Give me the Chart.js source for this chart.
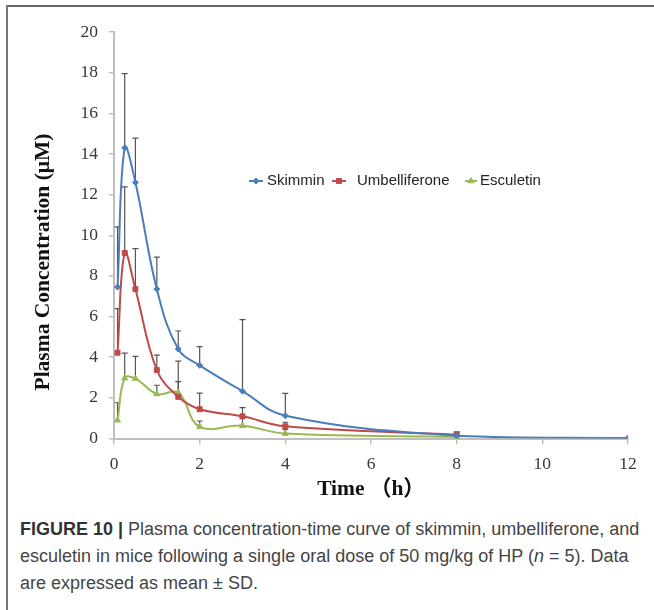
<!DOCTYPE html>
<html>
<head>
<meta charset="utf-8">
<script src="https://cdn.jsdelivr.net/npm/chart.js@4"></script>
<style>
html, body { margin: 0; padding: 0; background: #fff; }
#wrap { position: relative; width: 654px; height: 610px; overflow: hidden; }
#frameTop { position: absolute; left: 6px; top: 5px; width: 648px; height: 2px; background: #666; }
#frameLeft { position: absolute; left: 6px; top: 5px; width: 2px; height: 605px; background: #777; }
#chartBox { position: absolute; left: 0; top: 0; width: 654px; height: 505px; }
#caption { position: absolute; left: 20px; top: 516px; width: 634px; font: 18px/27px "Liberation Sans", Arial, sans-serif; color: #444; white-space: nowrap; }
#caption b { color: #333; }
</style>
</head>
<body>
<div id="wrap">
  <div id="chartBox"><canvas id="pkChart" width="654" height="505"></canvas></div>
  <div id="frameTop"></div>
  <div id="frameLeft"></div>
  <div id="caption"><b>FIGURE 10 |</b> Plasma concentration-time curve of skimmin, umbelliferone, and<br>esculetin in mice following a single oral dose of 50 mg/kg of HP (<i>n</i> = 5). Data<br>are expressed as mean &plusmn; SD.</div>
</div>
<script>
// time points (h)
const times = [0.083, 0.25, 0.5, 1, 1.5, 2, 3, 4, 8, 12]

// mean plasma concentration (uM) and SD
const skimmin = [7.45, 14.3, 12.6, 7.35, 4.4, 3.6, 2.33, 1.12, 0.14, 0.02]
const skimminSD = [2.96, 3.65, 2.18, 1.57, 0.89, 0.92, 3.52, 1.1, 0.18, 0]
const umbelliferone = [4.22, 9.13, 7.35, 3.37, 2.05, 1.44, 1.09, 0.6, 0.19]
const umbelliferoneSD = [2.17, 3.25, 1.99, 0.73, 1.76, 0.79, 0.43, 0.2, 0.13]
const esculetin = [0.9, 2.97, 2.95, 2.19, 2.26, 0.58, 0.63, 0.24, 0.08]
const esculetinSD = [0.86, 1.23, 1.09, 0.43, 0.54, 0.28, 0.37, 0.21, 0.12]

const xTicks = [0, 2, 4, 6, 8, 10, 12]
const yTicks = [0, 2, 4, 6, 8, 10, 12, 14, 16, 18, 20]

const toPoints = (vals) => vals.map((v, i) => ({ x: times[i], y: v }))

const serif = '"Liberation Serif", "Times New Roman", serif'

// upper error bars (mean + SD)
const errorBars = {
    id: 'errorBars',
    beforeDatasetsDraw(chart) {
        const { ctx, scales: { x, y } } = chart
        ctx.save()
        ctx.strokeStyle = '#555'
        ctx.lineWidth = 1.2
        chart.data.datasets.forEach((ds) => {
            ds.data.forEach((p, i) => {
                const sd = ds.sd[i]
                if (!sd) return
                const px = x.getPixelForValue(p.x)
                const y0 = y.getPixelForValue(p.y)
                const y1 = y.getPixelForValue(p.y + sd)
                ctx.beginPath()
                ctx.moveTo(px, y0)
                ctx.lineTo(px, y1)
                ctx.moveTo(px - 3, y1)
                ctx.lineTo(px + 3, y1)
                ctx.stroke()
            })
        })
        ctx.restore()
    },
}

// legend inside the plot + rotated y title
const extras = {
    id: 'extras',
    afterDraw(chart) {
        const ctx = chart.ctx
        ctx.save()
        const items = [
            { ds: 0, x0: 249, x1: 263, tx: 267 },
            { ds: 1, x0: 332, x1: 346, tx: 357 },
            { ds: 2, x0: 465, x1: 477, tx: 480 },
        ]
        const ly = 181
        items.forEach((it) => {
            const ds = chart.data.datasets[it.ds]
            ctx.strokeStyle = ds.borderColor
            ctx.lineWidth = 2
            ctx.beginPath()
            ctx.moveTo(it.x0, ly)
            ctx.lineTo(it.x1, ly)
            ctx.stroke()
            ctx.fillStyle = ds.borderColor
            ctx.lineWidth = 1
            Chart.helpers.drawPoint(ctx, { pointStyle: ds.pointStyle, radius: ds.pointRadius, rotation: 0, borderWidth: 1 }, (it.x0 + it.x1) / 2, ly)
            ctx.fillStyle = '#222'
            ctx.font = '15px "Liberation Sans", Arial, sans-serif'
            ctx.textAlign = 'left'
            ctx.textBaseline = 'middle'
            ctx.fillText(ds.label, it.tx, ly)
        })

        ctx.translate(43, 262)
        ctx.rotate(-Math.PI / 2)
        ctx.fillStyle = '#111'
        ctx.font = 'bold 21.5px ' + serif
        ctx.textAlign = 'center'
        ctx.textBaseline = 'middle'
        ctx.fillText('Plasma Concentration (μM)', 0, 0)
        ctx.restore()
    },
}

const ctx = document.querySelector('#pkChart').getContext('2d')

const pkChart = new Chart(ctx, {
    type: 'line',
    data: {
        datasets: [
            {
                label: 'Skimmin',
                data: toPoints(skimmin),
                sd: skimminSD,
                borderColor: '#4a7ebb',
                backgroundColor: '#4a7ebb',
                pointStyle: 'rectRot',
                pointRadius: 3,
            },
            {
                label: 'Umbelliferone',
                data: toPoints(umbelliferone),
                sd: umbelliferoneSD,
                borderColor: '#be4b48',
                backgroundColor: '#be4b48',
                pointStyle: 'rect',
                pointRadius: 3.5,
            },
            {
                label: 'Esculetin',
                data: toPoints(esculetin),
                sd: esculetinSD,
                borderColor: '#98b954',
                backgroundColor: '#98b954',
                pointStyle: 'triangle',
                pointRadius: 3.5,
            },
        ],
    },
    options: {
        responsive: false,
        animation: false,
        elements: {
            line: { borderWidth: 2, tension: 0.4, fill: false },
            point: { borderWidth: 1 },
        },
        layout: { padding: { left: 0, right: 26, top: 32, bottom: 0 } },
        plugins: {
            legend: { display: false },
            tooltip: { enabled: false },
        },
        scales: {
            x: {
                type: 'linear',
                min: 0,
                max: 12,
                afterBuildTicks: (s) => { s.ticks = xTicks.map((v) => ({ value: v })) },
                afterFit: (s) => { s.height = 66.5 },
                ticks: { font: { family: serif, size: 17.5 }, color: '#383838', padding: 9, maxRotation: 0 },
                grid: { drawOnChartArea: false, drawTicks: true, tickLength: 6, color: '#bfbfbf', lineWidth: 1.5 },
                border: { color: '#bfbfbf', width: 2 },
                title: {
                    display: true,
                    text: 'Time （h）',
                    color: '#111',
                    font: { family: serif + ', "Noto Sans CJK SC"', size: 21.5, weight: 'bold' },
                    padding: { top: 0, bottom: 3 },
                },
            },
            y: {
                min: 0,
                max: 20,
                afterBuildTicks: (s) => { s.ticks = yTicks.map((v) => ({ value: v })) },
                afterFit: (s) => { s.width = 114 },
                ticks: { font: { family: serif, size: 17.5 }, color: '#383838', padding: 11 },
                grid: { drawOnChartArea: false, drawTicks: true, tickLength: 5, color: '#bfbfbf', lineWidth: 1.5 },
                border: { color: '#bfbfbf', width: 2 },
            },
        },
    },
    plugins: [errorBars, extras],
})
</script>
</body>
</html>
